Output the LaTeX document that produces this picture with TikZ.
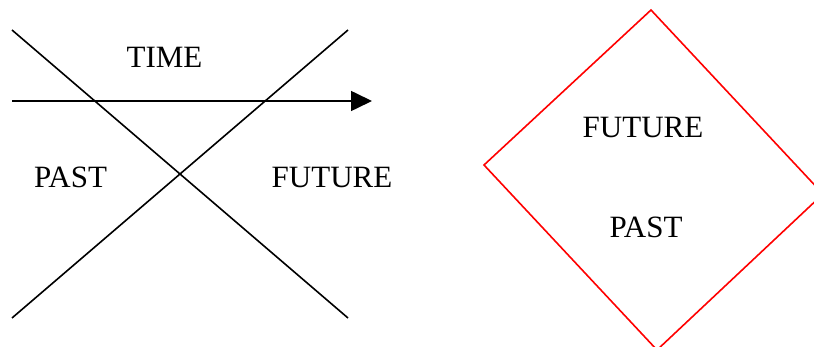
\documentclass[tikz,border=0pt]{standalone}
\usepackage{fontspec}
\setmainfont{Liberation Serif}
\usetikzlibrary{arrows.meta}
\begin{document}
\begin{tikzpicture}[x=1pt,y=-1pt,
  label/.style={font=\fontsize{31}{31}\selectfont, anchor=base, inner sep=0pt},
  axis/.style={black, line width=1.6pt},
  cone/.style={red, line width=1.6pt, line join=miter}]
  \useasboundingbox (0,0) rectangle (814,347);
  \clip (0,0) rectangle (814,347);

  % crossing light-cone lines
  \coordinate (ul) at (12,30);
  \coordinate (lr) at (348,318);
  \coordinate (ll) at (12,318);
  \coordinate (ur) at (348,30);
  \draw[axis] (ul) -- (lr);
  \draw[axis] (ll) -- (ur);

  % time axis
  \coordinate (t0) at (12,101);
  \coordinate (t1) at (372,101);
  \draw[axis, -{Triangle[length=21pt,width=20pt]}] (t0) -- (t1);

  \node[label] (time) at (164.5,68) {TIME};
  \node[label] (past) at (70.5,188) {PAST};
  \node[label] (future) at (332,188) {FUTURE};

  % diamond
  \coordinate (dt) at (651,10);
  \coordinate (dl) at (484,165);
  \coordinate (db) at (657,350);
  \coordinate (dr) at (823,194);
  \draw[cone] (dt) -- (dl) -- (db) -- (dr) -- cycle;

  \node[label] (dfuture) at (643,138) {FUTURE};
  \node[label] (dpast) at (646,238) {PAST};
\end{tikzpicture}
\end{document}
